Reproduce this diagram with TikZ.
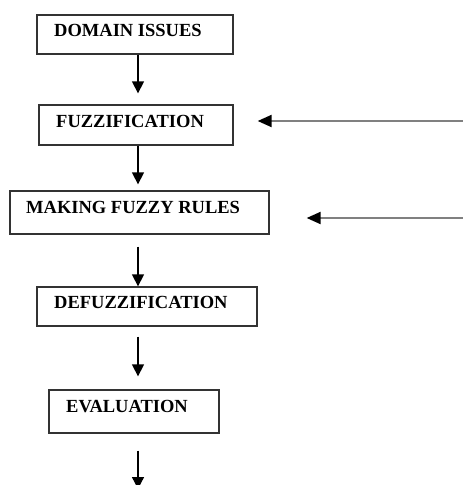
\documentclass[tikz,border=0pt]{standalone}
\usepackage{fontspec}
\setmainfont{Liberation Serif}
\usetikzlibrary{arrows.meta}
\begin{document}
\begin{tikzpicture}[x=1pt,y=-1pt,
  stagebox/.style={draw=black!80,line width=1.3pt,inner sep=0pt},
  stagetext/.style={anchor=base west,inner sep=0pt,font=\fontsize{18.5}{20}\selectfont\bfseries},
  flow/.style={line width=1.3pt,-{Triangle[length=12pt,width=12pt]}},
  feed/.style={line width=2pt,draw=black!50,-{Triangle[length=14pt,width=12pt,color=black]}}]
  \useasboundingbox (0,0) rectangle (463,485);
  \clip (0,0) rectangle (463,485);
  % stage boxes
  \node[stagebox,minimum width=196pt,minimum height=39pt] (b1) at (135,34.5) {};
  \node[stagebox,minimum width=194pt,minimum height=40pt] (b2) at (136,125) {};
  \node[stagebox,minimum width=259pt,minimum height=43pt] (b3) at (139.5,212.5) {};
  \node[stagebox,minimum width=220pt,minimum height=39pt] (b4) at (147,306.5) {};
  \node[stagebox,minimum width=170pt,minimum height=43pt] (b5) at (134,411.5) {};
  % stage labels
  \node[stagetext] (t1) at (54,36) {DOMAIN ISSUES};
  \node[stagetext] (t2) at (56,127) {FUZZIFICATION};
  \node[stagetext] (t3) at (26,213) {MAKING FUZZY RULES};
  \node[stagetext] (t4) at (54,308) {DEFUZZIFICATION};
  \node[stagetext] (t5) at (66,412) {EVALUATION};
  % flow column and loose ends
  \coordinate (axis) at (138,0);
  \coordinate (out) at (138,489);
  \coordinate (inA) at (466,121);
  \coordinate (inB) at (466,218);
  % downward flow
  \draw[flow,shorten >=11pt] (b1.south -| axis) -- (b2.north -| axis);
  \draw[flow,shorten >=6pt] (b2.south -| axis) -- (b3.north -| axis);
  \draw[flow,shorten <=12pt] (b3.south -| axis) -- (b4.north -| axis);
  \draw[flow,shorten <=10pt,shorten >=13pt] (b4.south -| axis) -- (b5.north -| axis);
  \draw[flow,shorten <=17pt] (b5.south -| axis) -- (out);
  % inputs from the right
  \draw[feed,shorten >=24pt] (inA) -- (inA -| b2.east);
  \draw[feed,shorten >=37pt] (inB) -- (inB -| b3.east);
\end{tikzpicture}
\end{document}
